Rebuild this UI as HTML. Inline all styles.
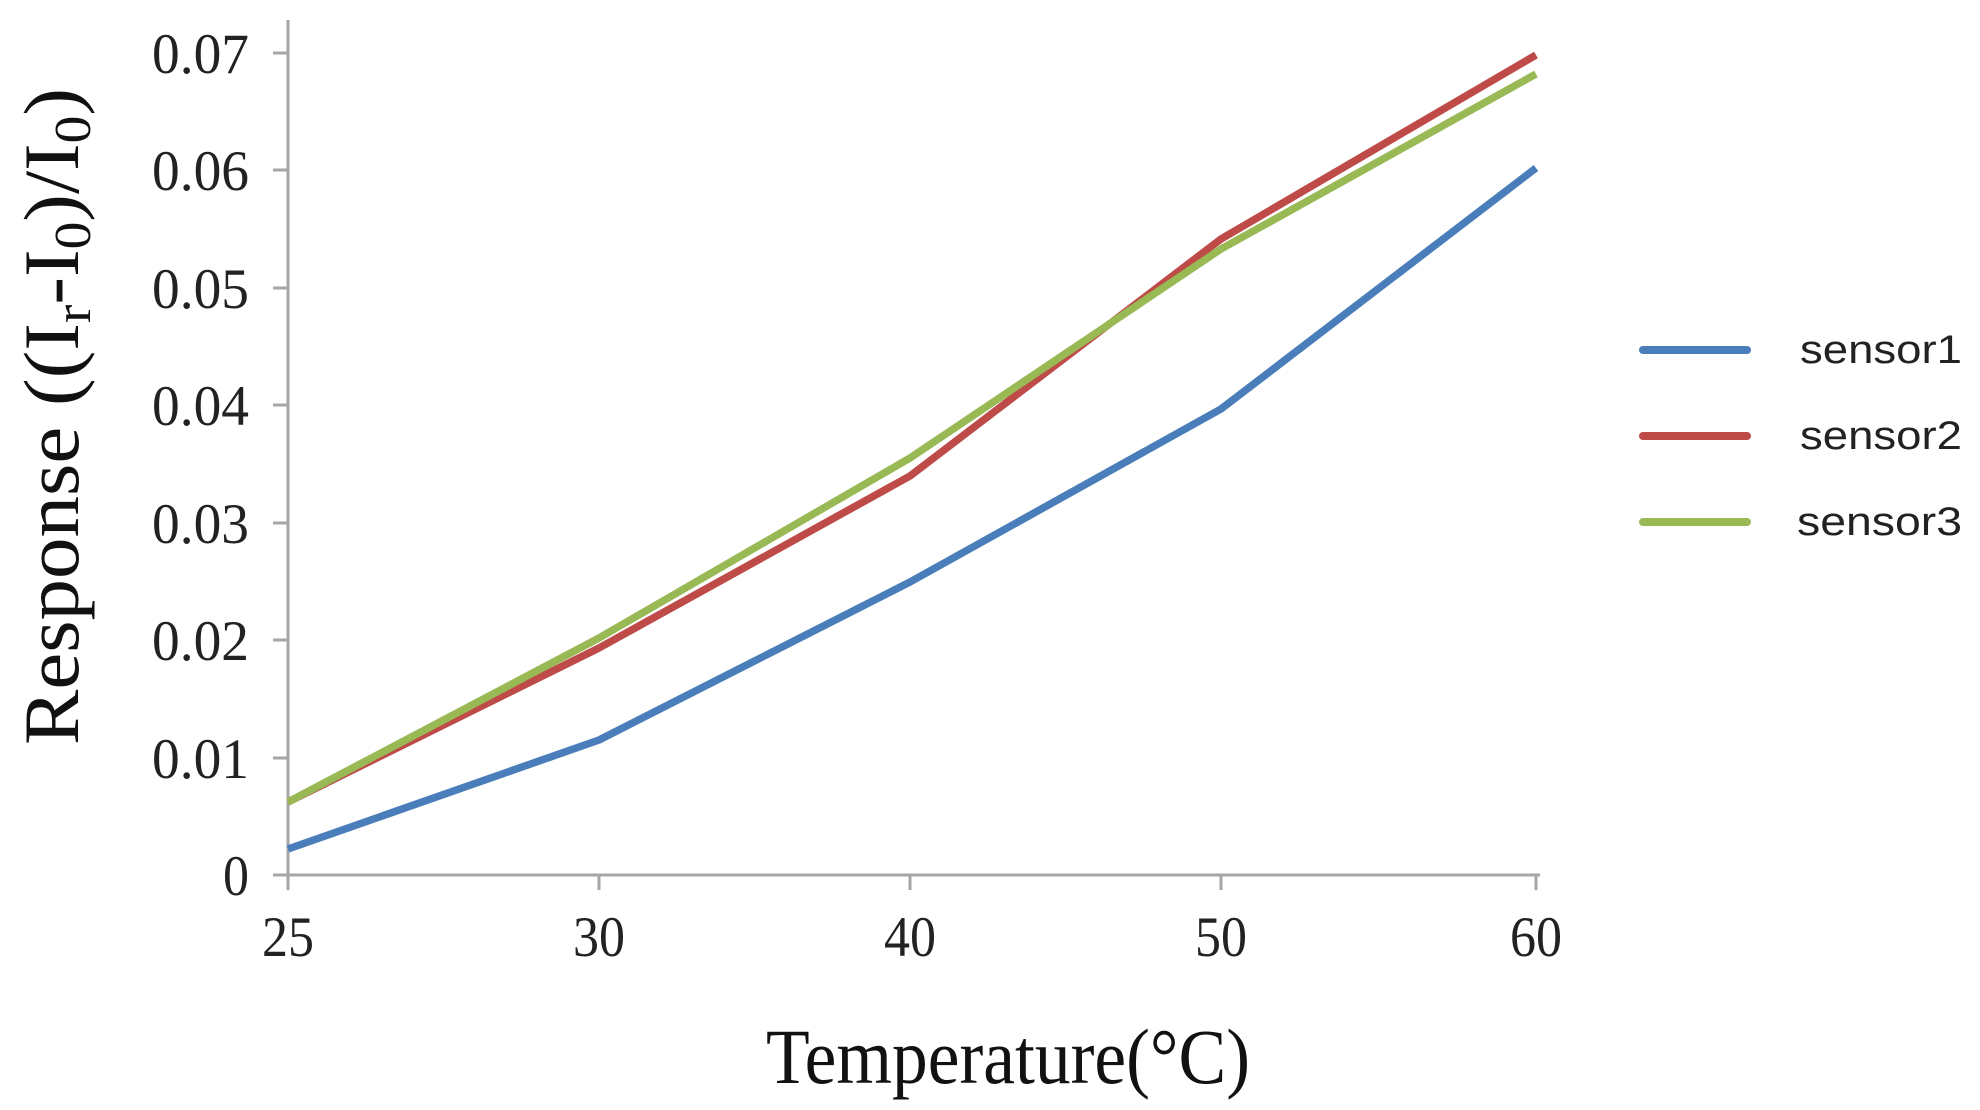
<!DOCTYPE html>
<html><head><meta charset="utf-8"><style>html,body{margin:0;padding:0;background:#fff}svg{display:block}</style></head>
<body>
<svg width="1980" height="1110" viewBox="0 0 1980 1110" xmlns="http://www.w3.org/2000/svg">
<g stroke="#a6a6a6" stroke-width="3" fill="none">
<line x1="288" y1="20" x2="288" y2="890"/>
<line x1="273" y1="875" x2="1540" y2="875"/>
<line x1="273" y1="53" x2="288" y2="53"/>
<line x1="273" y1="170" x2="288" y2="170"/>
<line x1="273" y1="288" x2="288" y2="288"/>
<line x1="273" y1="405" x2="288" y2="405"/>
<line x1="273" y1="523" x2="288" y2="523"/>
<line x1="273" y1="640" x2="288" y2="640"/>
<line x1="273" y1="758" x2="288" y2="758"/>
<line x1="599" y1="875" x2="599" y2="890"/>
<line x1="910" y1="875" x2="910" y2="890"/>
<line x1="1221" y1="875" x2="1221" y2="890"/>
<line x1="1536" y1="875" x2="1536" y2="890"/>
</g>
<g font-family="Liberation Serif, serif" font-size="57" fill="#222" text-anchor="end">
<text x="249" y="73" textLength="97" lengthAdjust="spacingAndGlyphs">0.07</text>
<text x="249" y="190" textLength="97" lengthAdjust="spacingAndGlyphs">0.06</text>
<text x="249" y="308" textLength="97" lengthAdjust="spacingAndGlyphs">0.05</text>
<text x="249" y="425" textLength="97" lengthAdjust="spacingAndGlyphs">0.04</text>
<text x="249" y="543" textLength="97" lengthAdjust="spacingAndGlyphs">0.03</text>
<text x="249" y="660" textLength="97" lengthAdjust="spacingAndGlyphs">0.02</text>
<text x="249" y="778" textLength="97" lengthAdjust="spacingAndGlyphs">0.01</text>
<text x="249" y="895" textLength="26" lengthAdjust="spacingAndGlyphs">0</text>
</g>
<g font-family="Liberation Serif, serif" font-size="57" fill="#222" text-anchor="middle">
<text x="288" y="956" textLength="52" lengthAdjust="spacingAndGlyphs">25</text>
<text x="599" y="956" textLength="52" lengthAdjust="spacingAndGlyphs">30</text>
<text x="910" y="956" textLength="52" lengthAdjust="spacingAndGlyphs">40</text>
<text x="1221" y="956" textLength="52" lengthAdjust="spacingAndGlyphs">50</text>
<text x="1536" y="956" textLength="52" lengthAdjust="spacingAndGlyphs">60</text>
</g>
<text x="766" y="1083" font-family="Liberation Serif, serif" font-size="78" fill="#111" textLength="484" lengthAdjust="spacingAndGlyphs">Temperature(°C)</text>
<text transform="translate(78,745) rotate(-90)" font-family="Liberation Serif, serif" font-size="78" fill="#111" textLength="657" lengthAdjust="spacingAndGlyphs">Response ((I<tspan font-size="52" dy="12">r</tspan><tspan dy="-12">-I</tspan><tspan font-size="52" dy="12">0</tspan><tspan dy="-12">)/I</tspan><tspan font-size="52" dy="12">0</tspan><tspan dy="-12">)</tspan></text>
<g fill="none" stroke-width="7.5" stroke-linejoin="round">
<polyline stroke="#4a7ebb" points="288,849 599,740 910,582 1221,409 1536,168"/>
<polyline stroke="#be4b48" points="288,802 599,648 910,476 1221,239 1536,55"/>
<polyline stroke="#98b954" points="288,802 599,638 910,458 1221,249 1536,74"/>
</g>
<g stroke-width="8" stroke-linecap="round">
<line x1="1643" y1="350" x2="1747" y2="350" stroke="#4a7ebb"/>
<line x1="1643" y1="436" x2="1747" y2="436" stroke="#be4b48"/>
<line x1="1643" y1="522" x2="1747" y2="522" stroke="#98b954"/>
</g>
<g font-family="Liberation Sans, sans-serif" font-size="40" fill="#222">
<text x="1800" y="363" textLength="162" lengthAdjust="spacingAndGlyphs">sensor1</text>
<text x="1800" y="449" textLength="162" lengthAdjust="spacingAndGlyphs">sensor2</text>
<text x="1797" y="535" textLength="165" lengthAdjust="spacingAndGlyphs">sensor3</text>
</g>
</svg>
</body></html>
